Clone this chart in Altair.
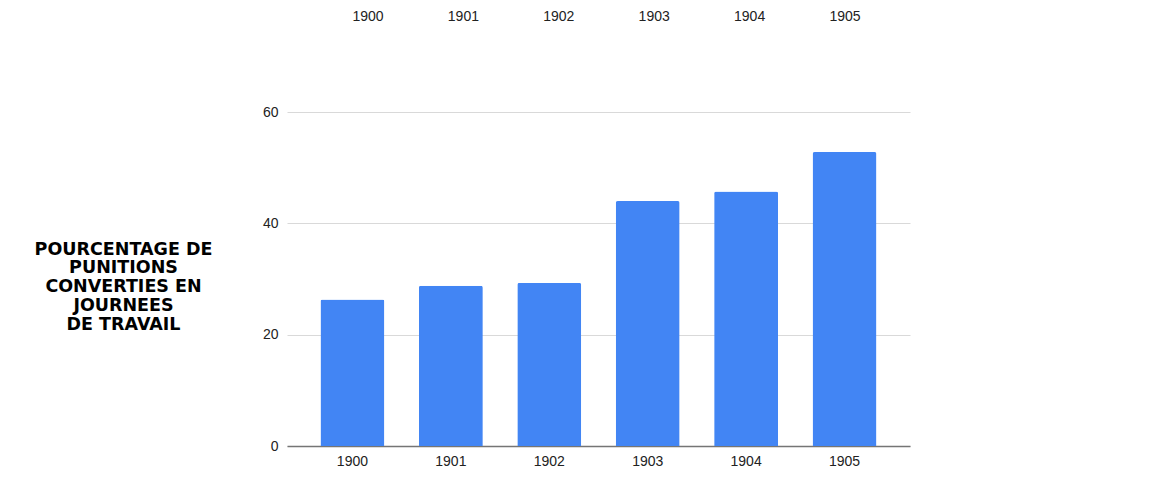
import altair as alt
import pandas as pd

years = ["1900", "1901", "1902", "1903", "1904", "1905"]
values = [26.3, 28.8, 29.3, 44.0, 45.7, 52.8]
y_ticks = [0, 20, 40, 60]
y_title = ["POURCENTAGE DE", "PUNITIONS", "CONVERTIES EN", "JOURNEES", "DE TRAVAIL"]

df = pd.DataFrame({"year": years, "value": values})

W, H = 623, 334

bars = alt.Chart(df).mark_bar(
    color="#4285F4", cornerRadiusTopLeft=2, cornerRadiusTopRight=2
).encode(
    x=alt.X(
        "year:N",
        sort=years,
        scale=alt.Scale(paddingInner=0.35, paddingOuter=0.34),
        axis=alt.Axis(
            title=None, labelAngle=0, tickSize=0, labelPadding=8,
            labelFont="Liberation Sans", labelFontSize=14, labelColor="#222222",
            domainColor="#757575", domainWidth=1.5, grid=False,
        ),
    ),
    y=alt.Y(
        "value:Q",
        scale=alt.Scale(domain=[0, 60], nice=False),
        axis=alt.Axis(
            values=y_ticks, tickSize=0, labelPadding=9, domain=False,
            labelFont="Liberation Sans", labelFontSize=14, labelColor="#222222",
            gridColor="#d9d9d9", gridWidth=1,
            title=y_title, titleAngle=0, titleAlign="center",
            titleBaseline="alphabetic", titleX=-164, titleY=142,
            titleFont="DejaVu Sans", titleFontSize=17.5, titleFontWeight="bold",
            titleColor="#000000", titleLineHeight=18.75,
        ),
    ),
)

top_labels = alt.Chart(pd.DataFrame({"year": years})).mark_text(
    font="Liberation Sans", fontSize=14, color="#222222", baseline="middle"
).encode(
    x=alt.X("year:N", sort=years,
            scale=alt.Scale(type="point", range=[81, 558], padding=0), axis=None),
    y=alt.value(-95),
    text="year:N",
)

chart = alt.layer(bars, top_labels).resolve_scale(x="independent").properties(
    width=W, height=H,
    autosize=alt.AutoSizeParams(type="none"),
    padding={"left": 279, "top": 104, "right": 247, "bottom": 45},
).configure_view(stroke=None)

chart.save("out.html", embed_options={"renderer": "svg", "actions": False})
